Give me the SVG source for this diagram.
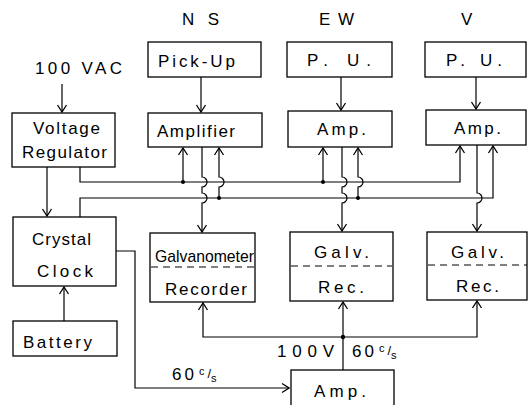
<svg xmlns="http://www.w3.org/2000/svg" width="528" height="405" viewBox="0 0 528 405">
<style>
.box{fill:#fff;stroke:#000;stroke-width:1.3}
.dash{stroke:#000;stroke-width:1.2;stroke-dasharray:7,5;fill:none}
.ln{fill:none;stroke:#000;stroke-width:1.2}
.t{font-family:"Liberation Sans",Arial,sans-serif;font-size:17px;fill:#000}
.dot{fill:#000}
</style>
<defs>
<marker id="arr" viewBox="-9 -6 10 12" refX="0" refY="0" markerWidth="10" markerHeight="12" markerUnits="userSpaceOnUse" orient="auto">
<path d="M-7,-4.5 L0,0 L-7,4.5" fill="none" stroke="#000" stroke-width="1.3"/>
</marker>
</defs>
<rect width="528" height="405" fill="#fff"/>

<g id="labels">
<text class="t" x="182" y="25" textLength="37" lengthAdjust="spacing" font-size="16">N S</text>
<text class="t" x="319" y="25" textLength="35" lengthAdjust="spacing" font-size="16">E W</text>
<text class="t" x="461" y="25" textLength="14" lengthAdjust="spacing" font-size="16">V</text>
<text class="t" x="35" y="74" textLength="87" lengthAdjust="spacing">100 VAC</text>
</g>

<g id="voltage-regulator">
<rect class="box" x="12" y="113" width="103" height="54"/>
<text class="t" x="33" y="134" textLength="67" lengthAdjust="spacing">Voltage</text>
<text class="t" x="22" y="158" textLength="85" lengthAdjust="spacing">Regulator</text>
</g>

<g id="ns-pickup">
<rect class="box" x="148" y="42" width="113" height="35"/>
<text class="t" x="158" y="67" textLength="77" lengthAdjust="spacing">Pick-Up</text>
</g>
<g id="ns-amplifier">
<rect class="box" x="148" y="113" width="114" height="34"/>
<text class="t" x="157" y="137" textLength="78" lengthAdjust="spacing">Amplifier</text>
</g>

<g id="ew-pu">
<rect class="box" x="287" y="42" width="105" height="35"/>
<text class="t" x="307" y="66" textLength="64" lengthAdjust="spacing">P. U.</text>
</g>
<g id="ew-amp">
<rect class="box" x="288" y="111" width="104" height="36"/>
<text class="t" x="317" y="135" textLength="49" lengthAdjust="spacing">Amp.</text>
</g>

<g id="v-pu">
<rect class="box" x="425" y="42" width="101" height="35"/>
<text class="t" x="446" y="66" textLength="56" lengthAdjust="spacing">P. U.</text>
</g>
<g id="v-amp">
<rect class="box" x="426" y="110" width="100" height="35"/>
<text class="t" x="454" y="134" textLength="47" lengthAdjust="spacing">Amp.</text>
</g>

<g id="crystal-clock">
<rect class="box" x="13" y="217" width="103" height="69"/>
<text class="t" x="32" y="245" textLength="59" lengthAdjust="spacing">Crystal</text>
<text class="t" x="37" y="277" textLength="56" lengthAdjust="spacing">Clock</text>
</g>

<g id="battery">
<rect class="box" x="13" y="321" width="104" height="35"/>
<text class="t" x="23" y="348" textLength="69" lengthAdjust="spacing">Battery</text>
</g>

<g id="ns-galvanometer-recorder">
<rect class="box" x="150" y="233" width="105" height="69"/>
<line class="dash" x1="151" y1="267" x2="254" y2="267"/>
<text class="t" x="155" y="262" textLength="99" lengthAdjust="spacingAndGlyphs" font-size="16">Galvanometer</text>
<text class="t" x="165" y="295" textLength="82" lengthAdjust="spacing">Recorder</text>
</g>

<g id="ew-galv-rec">
<rect class="box" x="290" y="232" width="103" height="69"/>
<line class="dash" x1="291" y1="266" x2="392" y2="266"/>
<text class="t" x="314" y="258" textLength="55" lengthAdjust="spacing">Galv.</text>
<text class="t" x="318" y="293" textLength="46" lengthAdjust="spacing">Rec.</text>
</g>

<g id="v-galv-rec">
<rect class="box" x="427" y="232" width="100" height="68"/>
<line class="dash" x1="428" y1="265" x2="527" y2="265"/>
<text class="t" x="451" y="258" textLength="53" lengthAdjust="spacing">Galv.</text>
<text class="t" x="456" y="292" textLength="43" lengthAdjust="spacing">Rec.</text>
</g>

<g id="bottom-amp">
<rect class="box" x="291" y="370" width="103" height="45"/>
<text class="t" x="314" y="397" textLength="52" lengthAdjust="spacing">Amp.</text>
</g>

<g id="connectors">
<path class="ln" d="M62,84 L62,112" marker-end="url(#arr)"/>
<path class="ln" d="M201,77 L201,112" marker-end="url(#arr)"/>
<path class="ln" d="M341,77 L341,110" marker-end="url(#arr)"/>
<path class="ln" d="M476,77 L476,109" marker-end="url(#arr)"/>
<path class="ln" d="M47,167 L47,216" marker-end="url(#arr)"/>
<path class="ln" d="M80,167 L80,182 L460,182 L460,146" marker-end="url(#arr)"/>
<path class="ln" d="M183,182 L183,148" marker-end="url(#arr)"/>
<path class="ln" d="M323,182 L323,148" marker-end="url(#arr)"/>
<path class="ln" d="M80,217 L80,198 L493,198 L493,146" marker-end="url(#arr)"/>
<path class="ln" d="M219,198 L219,187 A5,5 0 0 0 219,177 L219,148" marker-end="url(#arr)"/>
<path class="ln" d="M358,198 L358,187 A5,5 0 0 0 358,177 L358,148" marker-end="url(#arr)"/>
<path class="ln" d="M202,147 L202,177 A5,5 0 0 1 202,187 L202,193 A5,5 0 0 1 202,203 L202,232" marker-end="url(#arr)"/>
<path class="ln" d="M342,147 L342,177 A5,5 0 0 1 342,187 L342,193 A5,5 0 0 1 342,203 L342,231" marker-end="url(#arr)"/>
<path class="ln" d="M477,145 L477,193 A5,5 0 0 1 477,203 L477,231" marker-end="url(#arr)"/>
<path class="ln" d="M116,251 L135,251 L135,388 L289,388" marker-end="url(#arr)"/>
<path class="ln" d="M64,321 L64,287" marker-end="url(#arr)"/>
<path class="ln" d="M343,370 L343,302" marker-end="url(#arr)"/>
<path class="ln" d="M343,337 L203,337 L203,303" marker-end="url(#arr)"/>
<path class="ln" d="M343,337 L477,337 L477,301" marker-end="url(#arr)"/>
<circle class="dot" cx="183" cy="182" r="2"/>
<circle class="dot" cx="323" cy="182" r="2"/>
<circle class="dot" cx="219" cy="198" r="2"/>
<circle class="dot" cx="358" cy="198" r="2"/>
<circle class="dot" cx="343" cy="337" r="2.2"/>
</g>

<g id="connector-labels">
<text class="t" x="172" y="380" font-size="17" letter-spacing="3">60<tspan font-size="11" dx="2" dy="-5">c</tspan><tspan font-size="13" letter-spacing="0" dy="3">/</tspan><tspan font-size="11" letter-spacing="0" dy="4">s</tspan></text>
<text class="t" x="277" y="357" textLength="57" lengthAdjust="spacing">100V</text>
<text class="t" x="352" y="357" font-size="17" letter-spacing="3">60<tspan font-size="11" dx="2" dy="-5">c</tspan><tspan font-size="13" letter-spacing="0" dy="3">/</tspan><tspan font-size="11" letter-spacing="0" dy="4">s</tspan></text>
</g>
</svg>
